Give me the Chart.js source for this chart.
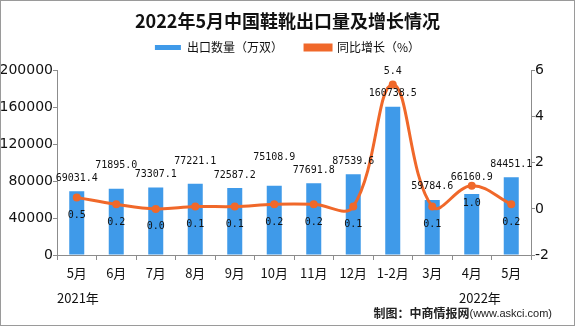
<!DOCTYPE html>
<html>
<head>
<meta charset="utf-8">
<script src="https://cdn.jsdelivr.net/npm/chart.js@4/dist/chart.umd.min.js"></script>
<style>
  body { margin: 0; background: #fff; }
  canvas { display: block; }
</style>
</head>
<body>
<canvas id="myCanvas" width="575" height="326"></canvas>
<script>
const months = ["5月", "6月", "7月", "8月", "9月", "10月", "11月", "12月", "1-2月", "3月", "4月", "5月"];
const exportVolume = [69031.4, 71895.0, 73307.1, 77221.1, 72587.2, 75108.9, 77691.8, 87539.6, 160738.5, 59784.6, 66160.9, 84451.1];
const growthRate = [0.5, 0.2, 0.0, 0.1, 0.1, 0.2, 0.2, 0.1, 5.4, 0.1, 1.0, 0.2];
const leftTicks = [0, 40000, 80000, 120000, 160000, 200000];
const rightTicks = [-2, 0, 2, 4, 6];

// extra lift for some bar labels so they clear the line
const barLabelLift = [0, 10, 0, 9, 0, 15, 0, 0, 0, 0, 4, 0];

const barColor = "#3f9ae9";
const lineColor = "#f0682a";
const axisColor = "#8c8c8c";
const cjk = "'Noto Sans CJK SC', sans-serif";

const labelsPlugin = {
    id: "labels",
    beforeInit(chart) {
        // leave a bit more room under the legend
        const fit = chart.legend.fit;
        chart.legend.fit = function () {
            fit.call(this);
            this.height += 7;
        };
    },
    afterDatasetsDraw(chart) {
        const ctx = chart.ctx;
        ctx.save();
        ctx.font = "10px 'DejaVu Sans Mono', monospace";
        ctx.fillStyle = "#111";
        ctx.textAlign = "center";
        ctx.textBaseline = "middle";
        chart.getDatasetMeta(0).data.forEach((bar, i) => {
            ctx.fillText(exportVolume[i].toFixed(1), bar.x, bar.y - 13 - barLabelLift[i]);
        });
        chart.getDatasetMeta(1).data.forEach((pt, i) => {
            const v = growthRate[i];
            ctx.fillText(v.toFixed(1), pt.x, v > 3 ? pt.y - 13 : pt.y + 18);
        });
        ctx.restore();
    },
    afterDraw(chart) {
        const ctx = chart.ctx;
        ctx.save();
        ctx.fillStyle = "#111";
        ctx.textBaseline = "middle";
        ctx.font = "13px " + cjk;
        ctx.textAlign = "left";
        ctx.fillText("2021年", 57, 298);
        ctx.fillText("2022年", 459, 298);

        // source note
        ctx.textAlign = "right";
        ctx.font = "11px 'Liberation Sans', sans-serif";
        ctx.fillStyle = "#222";
        ctx.fillText("(www.askci.com)", 552, 314);
        const w = ctx.measureText("(www.askci.com)").width;
        ctx.font = "bold 12px " + cjk;
        ctx.fillText("制图：中商情报网", 552 - w, 313);

        ctx.strokeStyle = "#9a9a9a";
        ctx.lineWidth = 1;
        ctx.strokeRect(0.5, 0.5, chart.width - 1, chart.height - 1);
        ctx.restore();
    }
};

const ctx = document.getElementById("myCanvas").getContext("2d");

var chart = new Chart(ctx, {
    type: "bar",
    data: {
        labels: months,
        datasets: [
            {
                label: "出口数量（万双）",
                data: exportVolume,
                backgroundColor: barColor,
                barPercentage: 0.76,
                categoryPercentage: 0.5,
                yAxisID: "y",
                order: 2
            },
            {
                type: "line",
                label: "同比增长（%）",
                data: growthRate,
                borderColor: lineColor,
                backgroundColor: lineColor,
                borderWidth: 3,
                pointRadius: 4,
                pointBackgroundColor: lineColor,
                pointBorderWidth: 0,
                tension: 0.4,
                yAxisID: "y1",
                order: 1
            }
        ]
    },
    options: {
        responsive: false,
        animation: false,
        layout: {
            padding: { top: 0, left: 0, right: 0, bottom: 41 }
        },
        plugins: {
            title: {
                display: true,
                text: "2022年5月中国鞋靴出口量及增长情况",
                color: "#111",
                font: { family: cjk, size: 18, weight: "bold" },
                padding: { top: 10, bottom: 4 }
            },
            legend: {
                display: true,
                position: "top",
                labels: {
                    boxWidth: 26,
                    boxHeight: 5,
                    padding: 6,
                    color: "#111",
                    font: { family: cjk, size: 12 },
                    sort: (a, b) => a.datasetIndex - b.datasetIndex,
                    generateLabels(chart) {
                        const items = Chart.defaults.plugins.legend.labels.generateLabels(chart);
                        items.forEach(item => {
                            if (item.datasetIndex === 0) item.text += "      ";
                        });
                        return items;
                    }
                }
            },
            tooltip: { enabled: false }
        },
        scales: {
            x: {
                grid: {
                    offset: true,
                    drawOnChartArea: false,
                    tickLength: 5,
                    color: axisColor
                },
                border: { color: axisColor },
                ticks: {
                    padding: 5,
                    color: "#111",
                    font: { family: cjk, size: 13 },
                    maxRotation: 0,
                    autoSkip: false
                },
                afterFit(scale) { scale.height = 30; }
            },
            y: {
                position: "left",
                min: leftTicks[0],
                max: leftTicks[leftTicks.length - 1],
                afterBuildTicks(scale) { scale.ticks = leftTicks.map(v => ({ value: v })); },
                grid: { drawOnChartArea: false, tickLength: 4, color: axisColor },
                border: { color: axisColor },
                ticks: {
                    padding: 0,
                    color: "#111",
                    font: { family: "'DejaVu Sans', sans-serif", size: 14 },
                    callback: v => String(v)
                },
                afterFit(scale) { scale.width = 57; }
            },
            y1: {
                position: "right",
                min: rightTicks[0],
                max: rightTicks[rightTicks.length - 1],
                afterBuildTicks(scale) { scale.ticks = rightTicks.map(v => ({ value: v })); },
                grid: { drawOnChartArea: false, tickLength: 4, color: axisColor },
                border: { color: axisColor },
                ticks: {
                    padding: 0,
                    color: "#111",
                    font: { family: "'DejaVu Sans', sans-serif", size: 14 },
                    callback: v => String(v)
                },
                afterFit(scale) { scale.width = 44; }
            }
        }
    },
    plugins: [labelsPlugin]
});
</script>
</body>
</html>
